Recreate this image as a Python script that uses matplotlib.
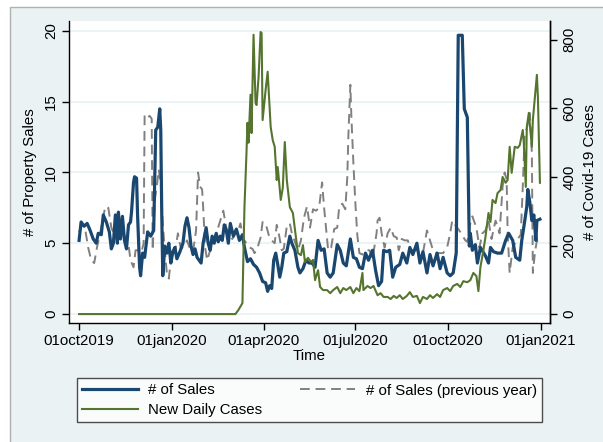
import numpy as np
import matplotlib
matplotlib.use("Agg")
import matplotlib.pyplot as plt
import matplotlib.dates as mdates
from matplotlib.lines import Line2D
from matplotlib.patches import Rectangle

plt.rcParams['font.family'] = ['Liberation Sans', 'DejaVu Sans']

start_date = np.datetime64('2019-10-01')

# ---- data (days since 01oct2019) ----
sales_days = [0, 2, 5, 8, 11, 14, 17, 19, 22, 24, 27, 30, 32, 34, 36, 38, 39, 41, 43, 45,
              47, 49, 51, 52, 54, 55, 57, 58, 60, 61, 63, 65, 68, 71, 74, 76, 78, 80, 81, 82,
              83, 85, 87, 89, 91, 93, 95, 97, 100, 103, 105, 107, 109, 111, 113, 115, 117, 119, 121, 123,
              126, 128, 130, 132, 134, 136, 138, 140, 142, 144, 146, 148, 150, 153, 156, 159, 162, 164, 167, 170,
              173, 176, 179, 182, 185, 187, 189, 191, 193, 195, 197, 199, 201, 203, 206, 209, 211, 214, 217, 219,
              222, 225, 228, 231, 234, 237, 240, 243, 246, 249, 252, 256, 259, 262, 265, 269, 272, 275, 278, 281,
              284, 287, 291, 294, 297, 300, 302, 305, 308, 311, 314, 318, 321, 325, 328, 331, 335, 338, 341, 345,
              348, 351, 355, 358, 361, 365, 368, 371, 374, 376, 380, 382, 385, 387, 388, 390, 393, 395, 398, 403,
              406, 408, 411, 415, 419, 423, 426, 430, 433, 437, 439, 442, 444, 445, 447, 449, 451, 453, 454, 457]
sales = [5.2, 6.5, 6.2, 6.4, 5.9, 5.3, 5.0, 5.7, 5.6, 7.0, 6.5, 5.8, 4.6, 5.0, 7.0, 5.0, 7.2, 5.3, 6.9, 5.2,
         4.6, 6.3, 6.5, 7.2, 9.3, 9.7, 9.6, 7.0, 3.3, 2.7, 4.3, 4.0, 5.8, 5.5, 5.9, 13.0, 13.2, 14.5, 13.0, 7.0,
         2.7, 4.8, 4.3, 5.0, 3.6, 4.4, 4.7, 3.9, 4.4, 5.0, 6.2, 6.8, 6.1, 4.8, 4.2, 4.6, 4.0, 3.8, 3.6, 5.0,
         6.1, 5.0, 4.5, 5.5, 5.0, 5.7, 5.1, 5.5, 5.2, 6.3, 5.9, 5.0, 6.4, 5.5, 6.0, 5.2, 5.6, 4.7, 3.7, 3.9,
         3.5, 3.3, 2.9, 2.3, 2.2, 1.6, 2.0, 1.8, 3.8, 4.3, 3.5, 2.6, 3.3, 4.3, 4.4, 5.5, 5.0, 4.5, 3.3, 2.9,
         3.2, 3.8, 3.6, 3.6, 3.3, 5.2, 4.5, 4.6, 2.9, 2.6, 2.9, 4.9, 4.5, 3.6, 3.4, 5.3, 4.0, 3.9, 3.3, 3.2,
         4.3, 3.8, 4.5, 3.1, 2.0, 2.3, 4.5, 4.4, 4.5, 2.6, 3.3, 3.5, 4.3, 3.6, 4.7, 4.2, 5.0, 3.6, 4.4, 2.9,
         4.2, 3.4, 4.3, 3.2, 4.0, 2.9, 2.7, 2.9, 4.3, 19.7, 19.7, 14.5, 13.9, 4.8, 5.7, 4.5, 4.9, 3.6, 4.7, 4.1,
         3.6, 4.7, 4.4, 4.3, 4.3, 5.2, 5.7, 5.2, 4.0, 3.8, 5.2, 6.6, 7.6, 8.8, 7.9, 6.6, 7.0, 5.2, 6.6, 6.7]

prev_days = [0, 3, 6, 9, 12, 15, 18, 20, 23, 26, 29, 32, 35, 38, 41, 44, 47, 49, 51, 54,
             56, 59, 62, 64, 65, 68, 70, 72, 73, 75, 77, 79, 81, 83, 85, 87, 89, 92, 95, 98,
             101, 104, 107, 110, 113, 116, 118, 120, 122, 123, 125, 127, 130, 133, 137, 140, 143, 146, 149, 152,
             155, 157, 160, 163, 166, 169, 172, 174, 177, 180, 182, 185, 188, 191, 194, 196, 198, 201, 203, 206,
             209, 211, 214, 217, 220, 223, 226, 229, 232, 235, 238, 241, 243, 245, 247, 250, 253, 256, 258, 261,
             264, 266, 267, 269, 270, 272, 274, 276, 278, 281, 285, 288, 291, 295, 296, 298, 300, 303, 306, 309,
             312, 315, 317, 320, 323, 326, 329, 333, 337, 341, 345, 348, 351, 355, 358, 361, 365, 368, 370, 372,
             375, 379, 383, 385, 388, 390, 394, 397, 400, 403, 406, 409, 413, 417, 420, 422, 424, 425, 427, 430,
             434, 438, 440, 442, 444, 447, 449, 450, 452, 454, 457]
prev_sales = [5.8, 6.3, 6.0, 4.7, 3.8, 3.6, 4.8, 5.4, 6.5, 7.6, 7.5, 6.1, 5.6, 5.2, 5.4, 5.8, 5.0, 4.9, 3.8, 3.3,
              4.5, 4.5, 4.4, 5.0, 14.1, 13.9, 14.0, 13.8, 4.5, 8.0, 9.0, 10.2, 9.2, 6.4, 4.5, 2.9, 2.5, 4.5, 4.3, 5.7,
              4.6, 4.8, 5.2, 4.6, 4.4, 5.9, 10.0, 9.0, 8.8, 7.6, 4.7, 3.8, 4.5, 5.2, 5.9, 6.6, 7.3, 6.1, 5.5, 5.3,
              5.7, 5.7, 6.4, 5.3, 5.0, 4.7, 4.6, 4.3, 4.7, 5.4, 6.5, 6.4, 5.6, 5.2, 5.0, 6.3, 5.7, 4.5, 4.6, 6.2,
              6.4, 5.7, 5.1, 4.5, 5.2, 6.8, 7.6, 6.1, 7.4, 7.3, 7.5, 9.3, 7.5, 6.0, 4.5, 4.7, 6.0, 6.1, 7.6, 7.8,
              7.4, 9.7, 12.5, 16.2, 14.0, 10.7, 7.8, 5.5, 4.3, 4.2, 4.5, 4.5, 3.9, 5.7, 6.6, 6.8, 5.7, 4.7, 5.7, 6.1,
              5.5, 5.4, 4.5, 5.3, 5.2, 5.2, 4.5, 4.5, 4.5, 4.3, 5.9, 5.2, 4.5, 4.3, 4.3, 4.3, 4.7, 5.7, 6.6, 6.4,
              6.1, 5.7, 5.2, 5.1, 6.4, 6.9, 6.1, 4.7, 5.7, 5.9, 6.6, 5.3, 6.6, 5.7, 9.0, 10.0, 9.5, 5.7, 2.9, 4.7,
              5.2, 5.6, 9.0, 12.8, 13.1, 14.2, 11.4, 2.9, 4.3, 5.2, 4.8]

cases_days = [0, 155, 158, 162, 163, 164, 166, 167, 168, 170, 171, 173, 175, 176, 178, 180, 181, 182, 185, 187,
              190, 192, 194, 196, 197, 200, 202, 204, 206, 209, 212, 215, 217, 220, 222, 224, 227, 230, 232, 234,
              237, 239, 242, 246, 249, 252, 256, 259, 262, 265, 269, 272, 275, 278, 281, 282, 286, 289, 292, 296,
              299, 302, 306, 309, 312, 315, 318, 321, 325, 328, 331, 335, 338, 341, 345, 348, 351, 355, 358, 361,
              365, 368, 371, 375, 378, 381, 385, 388, 391, 394, 396, 398, 401, 403, 406, 408, 410, 413, 415, 418,
              420, 423, 425, 427, 429, 432, 435, 437, 440, 441, 443, 444, 446, 449, 450, 454, 455, 457]
cases = [0, 0, 12, 32, 178, 312, 470, 558, 500, 640, 528, 815, 616, 610, 692, 823, 820, 566, 654, 707,
         546, 508, 488, 391, 429, 333, 368, 502, 391, 312, 295, 225, 178, 172, 201, 152, 164, 152, 158, 99,
         128, 79, 70, 70, 61, 70, 79, 61, 76, 70, 79, 61, 76, 67, 120, 70, 82, 76, 82, 55,
         61, 50, 50, 44, 53, 47, 55, 44, 53, 64, 50, 53, 32, 50, 44, 55, 47, 58, 50, 70,
         76, 67, 82, 88, 79, 96, 93, 99, 120, 111, 67, 137, 187, 225, 295, 269, 333, 324, 353, 362,
         400, 383, 391, 488, 412, 488, 485, 493, 537, 500, 371, 546, 587, 488, 566, 698, 634, 383]

tick_dates = ['2019-10-01', '2020-01-01', '2020-04-01', '2020-07-01', '2020-10-01', '2021-01-01']
tick_labels = ['01oct2019', '01jan2020', '01apr2020', '01jul2020', '01oct2020', '01jan2021']
left_ticks = [0, 5, 10, 15, 20]
right_ticks = [0, 200, 400, 600, 800]

# ---- styling ----
W, H = 603, 442
BG = '#EAF2F3'
NAVY = '#1A476F'
GREEN = '#55752F'
GRAY = '#808080'
FS = 10.8

fig = plt.figure(figsize=(W / 100, H / 100), dpi=100)
fig.patch.set_facecolor('white')
fig.patches.append(Rectangle((9.5 / W, -0.01), 1.0, 1 - 6.5 / H + 0.01, transform=fig.transFigure,
                             facecolor=BG, edgecolor='#B0B0B0', linewidth=1.0, zorder=-10))

ax = fig.add_axes([69 / W, 1 - 323 / H, (550 - 69) / W, (323 - 21) / H])
ax.set_facecolor('white')
ax2 = ax.twinx()

d_sales = start_date + np.array(sales_days).astype('timedelta64[D]')
d_prev = start_date + np.array(prev_days).astype('timedelta64[D]')
d_cases = start_date + np.array(cases_days).astype('timedelta64[D]')

ax.plot(d_prev, prev_sales, color=GRAY, lw=1.4, dashes=(5, 3), zorder=2)
ax.plot(d_sales, sales, color=NAVY, lw=2.3, zorder=3)
ax2.plot(d_cases, cases, color=GREEN, lw=1.5, zorder=4)

ax.set_xlim(start_date - np.timedelta64(10, 'D'), start_date + np.timedelta64(467, 'D'))
ax.set_ylim(-0.64, 20.71)
ax2.set_ylim(-26, 855)

for y in left_ticks:
    ax.axhline(y, color=BG, lw=1.3, zorder=0)

ax.set_yticks(left_ticks)
ax.set_yticklabels([str(t) for t in left_ticks], rotation=90, va='center')
ax2.set_yticks(right_ticks)
ax2.set_yticklabels([str(t) for t in right_ticks], rotation=90, va='center')
ax.set_xticks([np.datetime64(d) for d in tick_dates])
ax.set_xticklabels(tick_labels)

for a in (ax, ax2):
    for s in a.spines.values():
        s.set_linewidth(1.0)
        s.set_color('black')
    a.spines['top'].set_visible(False)
ax2.spines['left'].set_visible(False)
ax2.spines['bottom'].set_visible(False)

ax.tick_params(axis='both', labelsize=FS, length=5, width=1.0, color='black', labelcolor='black')
ax.tick_params(axis='y', pad=3)
ax.tick_params(axis='x', pad=3)
ax2.tick_params(axis='y', labelsize=FS, length=5, width=1.0, color='black', pad=4)

ax.set_ylabel('# of Property Sales', fontsize=FS, labelpad=5)
ax2.set_ylabel('# of Covid-19 Cases', fontsize=FS, labelpad=5, rotation=90)
ax.set_xlabel('Time', fontsize=FS, labelpad=1)

handles = [Line2D([], [], color=NAVY, lw=2.3),
           Line2D([], [], color=GREEN, lw=1.5),
           Line2D([], [], color=GRAY, lw=1.4, dashes=(5, 3))]
labels = ['# of Sales', 'New Daily Cases', '# of Sales (previous year)']
leg = fig.legend(handles, labels, loc='lower left',
                 bbox_to_anchor=(77 / W, 20 / H, 465 / W, 49 / H), mode='expand', ncol=2,
                 fontsize=FS, frameon=True, fancybox=False, edgecolor='#222222',
                 borderaxespad=0, handlelength=3.7, handletextpad=0.7, labelspacing=0.35,
                 borderpad=0.35, columnspacing=1.5)
leg.get_frame().set_linewidth(1.0)
leg.get_frame().set_facecolor('white')

fig.savefig('out.png', dpi=100, facecolor=fig.get_facecolor())
